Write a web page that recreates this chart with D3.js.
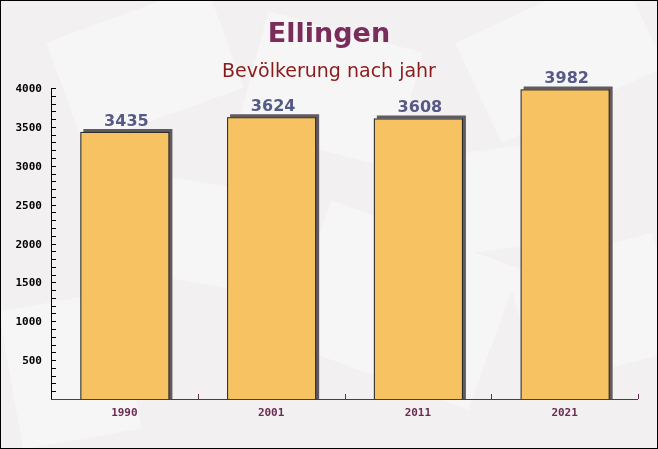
<!DOCTYPE html>
<html><head><meta charset="utf-8">
<script src="https://cdn.jsdelivr.net/npm/d3@7"></script>
<style>html,body{margin:0;padding:0;background:#fff}svg{display:block}</style>
</head><body>
<script>
const categories = ["1990", "2001", "2011", "2021"];
const values = [3435, 3624, 3608, 3982];
const yTicks = [500, 1000, 1500, 2000, 2500, 3000, 3500, 4000];
const titleText = "Ellingen";
const subtitleText = "Bevölkerung nach jahr";

const W = 658, H = 449;
const m = {left: 51, right: 20, top: 88, bottom: 50};
const svg = d3.select("body").append("svg").attr("width", W).attr("height", H);

// background
svg.append("rect").attr("x",0).attr("y",0).attr("width",W).attr("height",H).attr("fill","#f2f0f1");
const deco = svg.append("g").attr("fill","#f9f8f8").attr("opacity",0.7);
[[60,10,170,110,-20],[250,30,160,120,15],[470,0,180,110,-25],[300,230,200,150,20],[520,250,150,120,-15],[10,300,120,140,-10],[120,180,130,100,10],[430,150,120,100,-8]].forEach(d=>{
  deco.append("rect").attr("x",d[0]).attr("y",d[1]).attr("width",d[2]).attr("height",d[3])
    .attr("transform",`rotate(${d[4]},${d[0]+d[2]/2},${d[1]+d[3]/2})`);
});
svg.append("rect").attr("x",0.5).attr("y",0.5).attr("width",W-1).attr("height",H-1)
  .attr("fill","none").attr("stroke","#000").attr("stroke-width",1);

const x = d3.scaleBand().domain(categories).range([m.left, W - m.right]).paddingInner(0.4).paddingOuter(0.2);
const xb = d3.scaleBand().domain(categories).range([m.left, W - m.right]);
const y = d3.scaleLinear().domain([0, 4000]).range([H - m.bottom, m.top]);

// title
svg.append("text").attr("x", W/2).attr("y", 42).attr("text-anchor","middle")
  .attr("font-family","'DejaVu Sans', Verdana, sans-serif").attr("font-weight","bold")
  .attr("font-size",27).attr("fill","#7a2c5a").text(titleText);
svg.append("text").attr("x", W/2).attr("y", 77).attr("text-anchor","middle")
  .attr("font-family","'DejaVu Sans', Verdana, sans-serif")
  .attr("font-size",19).attr("fill","#8b1a1a").text(subtitleText);

// bars
const g = svg.append("g");
categories.forEach((c,i)=>{
  const bx = x(c), bw = x.bandwidth(), by = y(values[i]), base = y(0);
  g.append("path")
    .attr("d", `M${bx+bw},${by} L${bx+3},${by} L${bx+3},${by-3} L${bx+bw+4},${by-3} L${bx+bw+4},${base} L${bx+bw},${base} Z`)
    .attr("fill","#615a60");
  g.append("rect").attr("x",bx+0.5).attr("y",by+0.5).attr("width",bw).attr("height",base-by)
    .attr("fill","#f7c261").attr("stroke","#222").attr("stroke-width",1);
  g.append("text").attr("x", bx + bw/2 + 2).attr("y", by - 6).attr("text-anchor","middle")
    .attr("font-family","'DejaVu Sans', Verdana, sans-serif").attr("font-weight","bold")
    .attr("font-size",16).attr("fill","#565a86").text(values[i]);
});

// y axis
const ya = svg.append("g").attr("transform",`translate(${m.left},0)`);
ya.append("line").attr("x1",0.5).attr("x2",0.5).attr("y1",y(4000)).attr("y2",y(0)).attr("stroke","#000");
d3.range(100, 4001, 100).forEach(v=>{
  ya.append("line").attr("x1",0).attr("x2",5).attr("y1",Math.round(y(v))+0.5).attr("y2",Math.round(y(v))+0.5).attr("stroke","#000");
});
yTicks.forEach(v=>{
  ya.append("text").attr("x",-9).attr("y",y(v)+4).attr("text-anchor","end")
    .attr("font-family","'DejaVu Sans Mono', monospace").attr("font-weight","bold")
    .attr("font-size",11).attr("fill","#000").text(v);
});

// x axis
const xa = svg.append("g");
xa.append("line").attr("x1",m.left).attr("x2",W-m.right).attr("y1",y(0)+0.5).attr("y2",y(0)+0.5).attr("stroke","#6b2a52");
categories.forEach(c=>{
  const bx = xb(c) + xb.bandwidth();
  xa.append("line").attr("x1",Math.round(bx)+0.5).attr("x2",Math.round(bx)+0.5).attr("y1",y(0)-5).attr("y2",y(0)).attr("stroke","#6b2a52");
  xa.append("text").attr("x", x(c)+x.bandwidth()/2).attr("y", y(0)+17).attr("text-anchor","middle")
    .attr("font-family","'DejaVu Sans Mono', monospace").attr("font-weight","bold")
    .attr("font-size",11).attr("fill","#6b2a52").text(c);
});
</script>
</body></html>
